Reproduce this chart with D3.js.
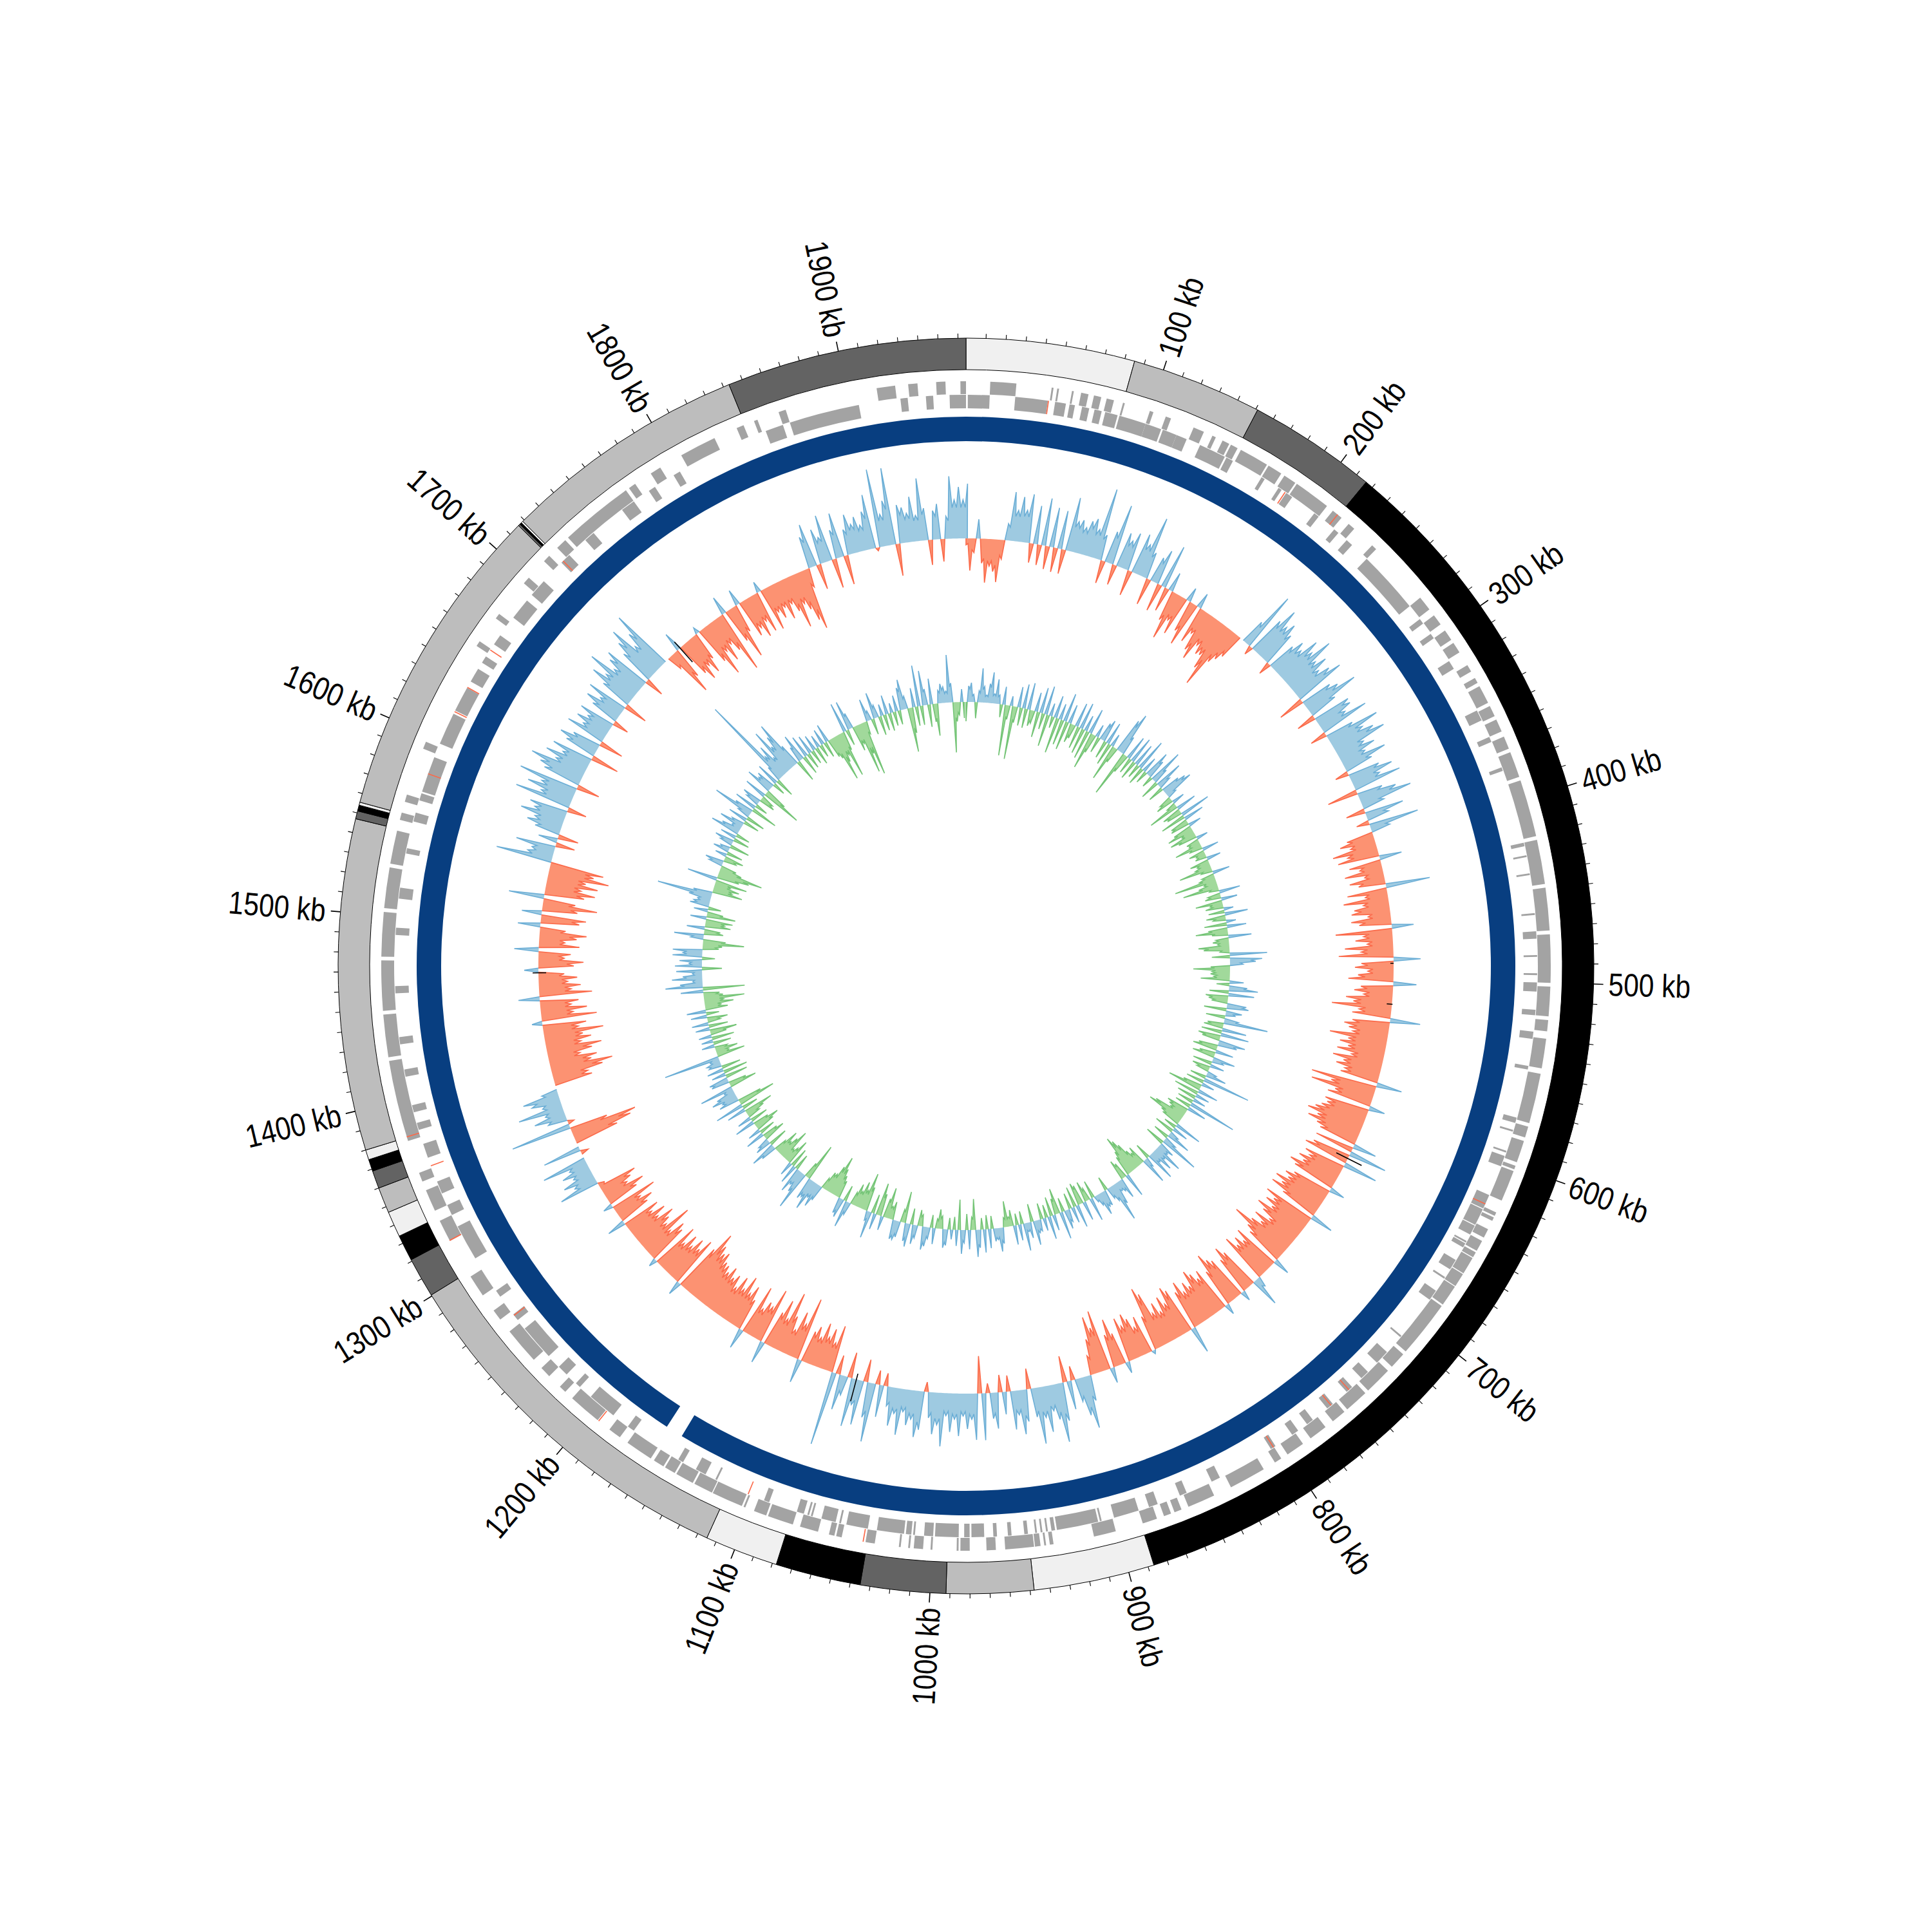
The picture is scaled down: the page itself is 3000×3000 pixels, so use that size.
<!DOCTYPE html>
<html><head><meta charset="utf-8"><script src="https://cdn.jsdelivr.net/npm/d3@7"></script>
<style>html,body{margin:0;padding:0;background:#fff}</style></head><body><div id="c"></div>
<script>
const genomeKb = 1964, stepKb = 3;
const tickLabels = ["100 kb","200 kb","300 kb","400 kb","500 kb","600 kb","700 kb","800 kb","900 kb","1000 kb","1100 kb","1200 kb","1300 kb","1400 kb","1500 kb","1600 kb","1700 kb","1800 kb","1900 kb"];
const tickPositions = [100,200,300,400,500,600,700,800,900,1000,1100,1200,1300,1400,1500,1600,1700,1800,1900];
const segmentEnds = [85,151,216,887,948,992,1035,1078,1115,1300.6,1320.8,1334,1347,1360,1369,1375,1380,1547,1551,1554,1555.5,1716,1717,1718,1719,1843,1964];
const segmentShades = ["#f0f0f0","#bdbdbd","#636363","#000000","#f0f0f0","#bdbdbd","#636363","#000000","#f0f0f0","#bdbdbd","#636363","#000000","#f0f0f0","#bdbdbd","#636363","#000000","#f0f0f0","#bdbdbd","#636363","#000000","#f0f0f0","#bdbdbd","#636363","#000000","#f0f0f0","#bdbdbd","#636363"];
const contigRuns = [[0,1152],[1162,1964]];
const genesOuter = [13,27,46,47,49,50,57,58,62,66,69,73,76,80,85,86,100,102,109,112,125,131,136,138,142,146,147,151,153,169,170,178,180,187,188,208,212,218,223,227,240,243,278,286,290,296,300,306,308,314,322,326,330,333,335,345,347,353,355,362,365,372,374,388,390,421,423,447,449,472,474,500,502,518,520,526,530,546,549,576,578,584,586,598,600,602,603,620,627,629,630,632,637,642,644,650,651,654,654.5,664,664.5,672,672.5,684,685,716,718,727,730,745,747,760,762,770,775,785,790,800,804,808,815,835,845,860,864,868,870,874,878,886,901,913,935,937,939,940,942,945,945.5,961,966,971,980,985,986,987,1000,1001,1005,1010,1012,1013,1017,1018,1031,1036,1049,1052,1053,1056,1062,1072,1076,1090,1091,1098,1103,1104,1105,1122,1122.5,1133,1134,1144,1145,1151,1152,1158,1160,1175,1180,1187,1195,1213,1218,1222,1230,1236,1242,1262,1270,1276,1286,1298,1320,1332,1338,1350,1355,1360,1378,1422,1424,1447,1449,1476,1478,1502,1504,1526,1528,1546,1552,1556,1562,1566,1592,1596,1654,1657,1672,1675,1696,1700,1712,1716,1722,1728,1730,1770,1772,1776,1786,1792,1805,1825,1838,1842,1848,1850,1862,1866,1916,1926,1933,1938,1948,1953,1961,1964];
const genesInner = [1,13,27,45,49,55,57,60,64,68,71,75,77,84,85,100,100,109,110,118,118,124,132,147,148,152,170,172,181,183,186,190,205,208,219,222,228,232,243,278,287,290,297,300,315,320,346,352,362,365,380,382,423,425,430,431,440,441,462,463,472,476,485,486,495,496,500,505,515,518,527,531,546,548,575,578,582,583,594,595,597,603,620,628,628.5,638,638.5,644,648,649,649.5,652,660,666,671,672,680,686,711,712,723,731,738,743,750,754,764,768,778,782,788,792,803,806,838,843,858,862,875,880,886,900,907,908,909,932,933,935,937,938,940,941,943,944,948,950,957,959,965,967,972,979,980,983,986,999,1000,1005,1010,1011,1012,1015,1016,1031,1036,1048,1051,1052,1054,1062,1067,1068,1069,1070,1072,1076,1092,1095,1123,1124,1130,1136,1144,1147,1176,1180,1190,1206,1214,1217,1224,1230,1238,1258,1264,1268,1280,1284,1305,1325,1332,1338,1345,1352,1366,1374,1382,1386,1392,1396,1412,1416,1430,1434,1458,1462,1490,1494,1510,1516,1535,1538,1553,1558,1565,1569,1570,1590,1598,1616,1618,1632,1636,1644,1648,1652,1660,1666,1678,1690,1694,1704,1718,1724,1736,1742,1762,1770,1780,1784,1796,1800,1852,1862,1866,1905,1928,1932,1942,1946,1955,1964];
const redGenesOuter = [215,1194,1320,1380,1037];
const redGenesInner = [45,185,625,752,765,804,1104,1267,1361,1580,1617,1632,1656,1719];
const gcValues = [
-10,-50,-22,30,-38,-68,-42,-50,-66,-30,26,76,48,70,50,76,-30,60,-32,74,-36,62,-38,60,-38,84,48,52,42,54,60,45,112,
40,-36,50,95,-32,55,45,60,-40,64,50,97,42,-42,40,55,-44,69,-38,30,-48,-76,-42,-62,22,-50,-70,24,-58,-40,-66,-78,-50,-62,
-60,-80,-106,-60,-50,-40,0,40,94,-14,60,85,60,70,55,-20,45,60,50,76,60,90,55,70,50,65,81,-41,50,60,87,45,-30,
60,59,45,78,-26,45,85,55,70,85,45,60,40,71,45,-21,50,69,45,76,-48,40,60,82,35,-30,61,35,-20,78,30,-42,-55,
-40,-70,-48,-65,35,-50,-35,-60,-30,-55,-42,69,-62,-35,-70,-40,-55,-60,-35,-62,-50,34,-88,-45,-58,-40,-75,-50,-85,42,-50,-60,-40,
-55,-70,36,-50,-60,-45,-72,-60,-93,-50,-60,47,-58,-70,-62,-55,-90,-60,-72,-58,-74,-50,-78,-60,-70,-55,-60,40,-103,-70,-100,-60,-70,
25,-70,-65,-72,-80,-90,-72,-85,-68,-60,37,-61,60,-60,-71,54,-65,-55,-70,-60,-79,-68,24,-62,-74,-66,-84,-70,-84,-60,36,-82,-65,
-75,-60,-82,-68,-50,-74,-58,-72,-99,-70,-60,26,-75,-58,-70,-60,-78,16,46,-65,-78,-60,16,-68,-74,-87,-60,17,-70,-60,-72,-81,-58,
-68,-55,-76,-62,42,-72,-80,-55,-70,-48,-66,-52,-88,-100,-55,6,-60,-45,-62,-72,-55,-70,18,-50,-75,-52,24,-95,-70,-89,-55,-30,40,
82,60,36,-22,45,-41,60,92,55,40,72,48,88,45,-32,50,69,38,60,-25,35,-27,56,40,-15,73,-58,72,40,55,35,66,40,
60,35,83,50,65,40,-15,60,72,45,55,35,72,40,60,30,-20,50,-22,92,55,-35,70,40,76,-40,30,55,-30,116,-74,-45,-65,
-50,-70,-45,-60,-50,37,-99,-55,-72,-40,-60,-96,-50,-78,-55,35,-87,-55,-60,-45,-79,32,-50,-70,-55,-80,-55,-72,-50,-68,-60,-74,-62,
-70,-72,-85,-80,-90,-108,-75,22,-80,-60,-73,-55,-70,-50,-75,13,-62,-70,-48,-89,-50,-60,-72,-48,-65,-45,-60,29,-50,-62,-45,-74,15,
-50,-65,-40,-50,-61,-10,63,35,50,30,45,30,71,0,-12,60,0,-70,-95,-105,-60,95,-10,30,50,30,71,30,45,57,25,0,-60,
-55,-80,-97,-65,-75,-50,-70,-86,-55,-72,-60,-93,-55,-68,16,-86,-50,-72,-48,-60,33,-82,-50,-65,-45,-60,-40,22,-55,-70,-40,-50,38,
-63,-40,-58,-73,-40,35,-60,-70,31,-55,-85,-50,55,-62,-78,-55,-80,-60,-95,-70,-84,88,40,35,62,-30,30,-32,40,55,45,70,50,
60,-30,89,50,75,55,94,-36,60,70,88,50,70,45,65,-44,50,64,45,-38,63,40,55,40,57,-25,45,60,40,65,-37,50,75,
55,90,50,65,74,-30,55,72,90,50,70,99,0,-24,-75,-50,30,-55,-70,-50,-66,-45,10,-60,-87,-50,-70,-45,-60,-98,29,-55,-86,
-45,25,-60,-50,-68,-45,-65,17,-68,-42,-55,-40,-62,-40,-55,-84,-48,-60,-80,-96,-30,50,68,-40,55,40,73,-46,45,70,-46,40,62,
45,55,40,60,85,-5,122,50,70,120,-50,60,55,45,70,40,97,50,-39,45,55,-35,35,97,60,80,60,85];
const skewValues = [
-30,25,30,12,-25,18,53,25,12,30,48,15,38,14,-20,28,-79,-22,15,-83,-25,32,-28,38,-30,42,-25,-20,30,-40,40,-25,45,
-50,20,-18,35,-56,25,-40,45,-45,30,-30,-22,38,-35,42,-40,25,-45,40,-58,-30,20,-25,28,35,-28,35,-35,20,-57,-25,55,68,
30,-73,-30,38,-25,42,-30,36,-22,50,-28,25,-20,42,30,-18,55,25,-30,44,20,-25,30,40,47,15,-20,-28,20,-15,-49,32,-30,
-25,48,-40,32,-28,-30,20,-30,-42,-20,-42,-30,18,-20,-18,-43,-20,26,-25,-15,-18,22,-30,-20,-25,-52,-18,27,-20,-25,-66,-20,-30,
-56,-15,33,-20,-25,25,-42,-20,-28,15,-25,36,-30,-20,15,-35,30,-30,-50,-25,36,-20,-25,-18,-48,-40,-15,58,-28,50,40,20,-30,
-57,-28,-30,-25,-45,22,-20,28,45,-30,40,-35,-30,-25,30,34,-35,25,15,-30,22,69,-25,-30,38,-32,44,-35,-28,42,30,-30,-38,
28,-25,-35,35,18,-30,22,-28,-20,15,32,-25,75,-28,20,-30,-53,32,-39,22,-30,20,-25,76,-25,30,-35,-30,-25,-50,-59,-35,-30,
43,-20,25,-31,15,38,-25,20,62,-31,25,18,46,20,36,18,46,-25,15,42,-30,-22,-30,-45,-55,-63,-40,-32,38,-25,-32,32,18,
15,35,61,25,18,-22,25,25,36,18,10,-28,37,-20,-32,30,-30,-35,36,-32,25,-25,20,30,-22,43,-40,-25,25,-30,36,-20,20,
-25,18,20,38,-28,25,14,43,-20,25,-18,30,-25,-15,-40,-15,25,37,18,20,-20,30,-22,36,-18,28,42,-48,-20,30,-25,20,37,
-47,25,-20,15,-18,25,29,-20,-30,-15,25,-20,18,30,36,-18,-25,20,30,-25,36,28,-49,-20,25,30,30,-28,-20,-48,-30,22,-35,
-51,25,-30,42,15,-38,-59,-30,-42,-25,-35,-20,20,42,-25,30,25,-28,-35,-45,-63,-45,-30,-30,-18,25,38,25,48,30,35,-59,-25,
61,35,25,40,-25,30,-30,22,-40,-25,-20,-50,-35,-25,-40,-20,25,40,-30,25,18,-35,-25,30,-25,20,-30,-41,-25,32,-28,22,-20,
-30,-46,30,-25,45,-59,-38,32,25,40,30,15,53,-43,-28,28,30,-35,22,-38,26,-30,20,22,15,88,-44,-20,-35,-20,20,-28,18,
-35,20,-25,-42,22,-30,26,-20,-32,25,-20,30,-35,-25,-45,-30,-63,-30,-25,35,-65,58,35,15,47,30,15,40,-31,42,20,35,-20,
46,30,46,-25,-30,-64,-35,20,46,-30,-25,28,-40,-30,-42,25,-45,-25,22,-20,30,25,20,35,86,30,-47,-30,-40,-25,-50,47,-35,
-50,-70,-35,-25,22,29,-20,-30,18,-25,25,15,-31,20,30,-25,25,-22,46,30,15,38,20,-25,30,-30,20,64,30,-42,35,-20,22,
30,-25,-20,35,-63,-35,42,25,30,-20,36,-30,25,147,40,55,30,76,45,60,79,35,-35,25,43,-30,35,-25,30,-22,25,-28,20,
-20,25,-25,29,-30,-35,-73,-45,-35,-72,-30,47,-25,46,25,-40,-30,-79,-50,-85,-20,35,15,-25,41,20,-30,18,-25,30,-28,15,-22,
25,-22,35,47,20,-69,-40,30,-30,64,-30,54,25,-35,40,-28,-50,20,30,25,18,74,30,-78,-30,-20,20,-25];
const blackKb = [1063,1735,637,519,1468,489];
const blackFrom = [-9,-29,-20,-8,-12,-5];
const blackTo = [35,13,24,1,9,0];

const svg = d3.select("#c").append("svg").attr("width",3000).attr("height",3000).style("display","block");
const g = svg.append("g").attr("transform","translate(1500,1500)");
const angle = d3.scaleLinear().domain([0,genomeKb]).range([0,2*Math.PI]);
const rGC = d3.scaleLinear().domain([-120,120]).range([544,784]);
const rSkew = d3.scaleLinear().domain([-150,150]).range([260,560]);
const arc = d3.arc();

let prev = 0;
segmentEnds.forEach((e,i)=>{
  g.append("path").attr("d",arc({innerRadius:926,outerRadius:975,startAngle:angle(prev),endAngle:angle(e)}))
   .attr("fill",segmentShades[i]).attr("stroke","#000").attr("stroke-width",1);
  prev = e;
});
d3.range(10,genomeKb,10).forEach(k=>{
  const major = k%100===0;
  g.append("line").attr("transform",`rotate(${angle(k)*180/Math.PI-90})`)
   .attr("x1",975).attr("x2",major?990:982).attr("stroke","#000").attr("stroke-width",major?1.6:1.1);
});
tickPositions.forEach((k,i)=>{
  const a = angle(k)*180/Math.PI;
  const t = g.append("text").text(tickLabels[i]).attr("font-family","'Liberation Sans',sans-serif")
    .attr("font-size",50).attr("fill","#000").attr("dominant-baseline","central");
  if(a<180) t.attr("transform",`rotate(${a-90}) translate(998,0) scale(0.85,1)`).attr("text-anchor","start");
  else t.attr("transform",`rotate(${a-90}) translate(998,0) rotate(180) scale(0.85,1)`).attr("text-anchor","end");
});
function drawGenes(list,r0,r1,fill){
  for(let i=0;i<list.length;i+=2){
    g.append("path").attr("d",arc({innerRadius:r0,outerRadius:r1,startAngle:angle(list[i]),endAngle:angle(list[i+1])})).attr("fill",fill);
  }
}
drawGenes(genesOuter,888,908,"#a3a3a3");
drawGenes(genesInner,866,887,"#a3a3a3");
redGenesOuter.forEach(k=>g.append("path").attr("d",arc({innerRadius:888,outerRadius:908,startAngle:angle(k),endAngle:angle(k+0.6)})).attr("fill","#fb6a4a"));
redGenesInner.forEach(k=>g.append("path").attr("d",arc({innerRadius:866,outerRadius:887,startAngle:angle(k),endAngle:angle(k+0.6)})).attr("fill","#fb6a4a"));
contigRuns.forEach(r=>g.append("path").attr("d",arc({innerRadius:815,outerRadius:853,startAngle:angle(r[0]),endAngle:angle(r[1])})).attr("fill","#083e80"));

// Spike outline: each reading is a sharp peak, with a valley set by its lower neighbour.
function spikePoints(vals){
  const pts=[];
  vals.forEach((a,i)=>{
    const x=i*stepKb; pts.push({x,v:a});
    if(i+1<vals.length){
      const b=vals[i+1];
      if(a*b>0){
        const m=Math.sign(a)*Math.min(Math.abs(a),Math.abs(b))*0.8;
        pts.push({x:x+0.5*stepKb,v:m});
      } else pts.push({x:x+0.5*stepKb,v:0});
    }
  });
  return pts;
}
function runs(pts,s){
  const out=[]; let cur=null;
  pts.forEach((p,i)=>{
    if(s*p.v>0){
      if(!cur) cur=[{x:i>0?pts[i-1].x:p.x,v:0}];
      cur.push(p);
      const n=pts[i+1];
      if(!n||s*n.v<=0){cur.push({x:n?n.x:p.x,v:0});out.push(cur);cur=null;}
    }
  });
  return out;
}
function drawSignal(vals,r,s,fill,stroke){
  const area=d3.areaRadial().angle(d=>angle(d.x)).innerRadius(r(0)).outerRadius(d=>r(d.v));
  const line=d3.lineRadial().angle(d=>angle(d.x)).radius(d=>r(d.v));
  const grp=g.append("g");
  runs(spikePoints(vals),s).forEach(run=>{
    grp.append("path").attr("d",area(run)).attr("fill",fill);
    grp.append("path").attr("d",line(run)).attr("fill","none").attr("stroke",stroke).attr("stroke-width",1.6);
  });
}
drawSignal(gcValues,rGC,1,"#9ecae1","#6baed6");
drawSignal(gcValues,rGC,-1,"#fc9272","#fb6a4a");
blackKb.forEach((k,i)=>{
  const pts=[[angle(k),rGC(blackFrom[i])],[angle(k),rGC(blackTo[i])]];
  g.append("path").attr("d",d3.lineRadial()(pts)).attr("stroke","#000").attr("stroke-width",1.6);
});
drawSignal(skewValues,rSkew,1,"#9ecae1","#6baed6");
drawSignal(skewValues,rSkew,-1,"#a1d99b","#74c476");
</script></body></html>
